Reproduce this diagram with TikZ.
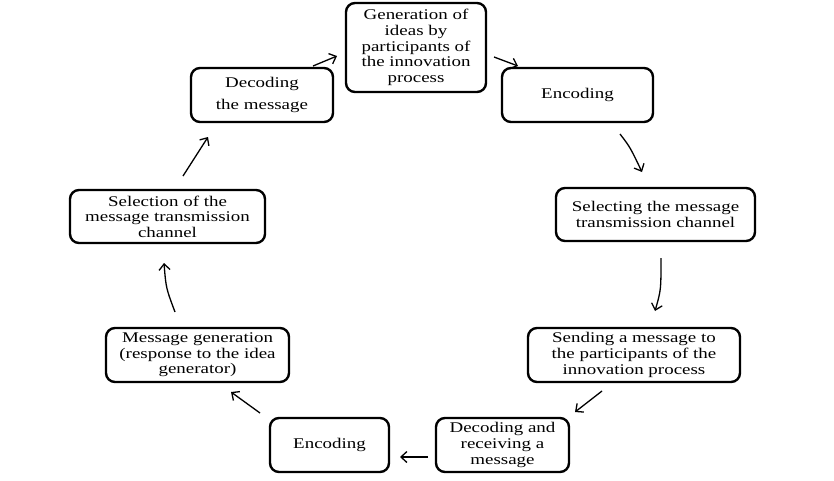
\documentclass[tikz,border=0pt]{standalone}
\usepackage{fontspec}
\setmainfont[FakeStretch=1.28]{Liberation Serif}
\usetikzlibrary{arrows.meta}
\begin{document}
\begin{tikzpicture}[x=1pt,y=-1pt,
  box/.style={draw=black,line width=2.4pt,rounded corners=9pt,align=center,inner sep=0pt,
    font=\fontsize{14.8}{15.6}\selectfont},
  arr/.style={line width=1.3pt,-{Straight Barb[length=6pt,width=11pt,line width=1.3pt]}}]
\useasboundingbox[fill=white] (0,0) rectangle (834,480);
\node[box,minimum width=140pt,minimum height=89pt] (n1) at (416,47.5) {Generation of\\ideas by\\participants of\\the innovation\\process};
\node[box,minimum width=151pt,minimum height=54pt] (n2) at (577.5,95) {Encoding};
\node[box,minimum width=199pt,minimum height=53pt] (n3) at (655.5,214.5) {Selecting the message\\transmission channel};
\node[box,minimum width=212pt,minimum height=54pt] (n4) at (634,355) {Sending a message to\\the participants of the\\innovation process};
\node[box,minimum width=133pt,minimum height=54pt] (n5) at (502.5,445) {Decoding and\\receiving a\\message};
\node[box,minimum width=119pt,minimum height=54pt] (n6) at (329.5,445) {Encoding};
\node[box,minimum width=183pt,minimum height=54pt] (n7) at (197.5,355) {Message generation\\(response to the idea\\generator)};
\node[box,minimum width=195pt,minimum height=53pt] (n8) at (167.5,216.5) {Selection of the\\message transmission\\channel};
\node[box,minimum width=142pt,minimum height=54pt] (n9) at (262,95) {Decoding\\[6pt]the message};
% arrow endpoints
\coordinate (a1s) at (313,66);  \coordinate (a1e) at (337,56);
\coordinate (a2s) at (494,57);  \coordinate (a2e) at (518,66);
\coordinate (a3s) at (620,134); \coordinate (a3e) at (642,172);
\coordinate (a4s) at (661,258); \coordinate (a4e) at (655,311);
\coordinate (a5s) at (602,391); \coordinate (a5e) at (575,412);
\coordinate (a6s) at (428,457); \coordinate (a6e) at (400,457);
\coordinate (a7s) at (260,413); \coordinate (a7e) at (231,392);
\coordinate (a8s) at (175,312); \coordinate (a8e) at (164,263);
\coordinate (a9s) at (183,176); \coordinate (a9e) at (208,137);
\draw[arr] (a1s) -- (a1e);
\draw[arr] (a2s) -- (a2e);
\draw[arr] (a3s) .. controls (630,147) .. (a3e);
\draw[arr] (a4s) .. controls (661,290) .. (a4e);
\draw[arr] (a5s) -- (a5e);
\draw[arr] (a6s) -- (a6e);
\draw[arr] (a7s) -- (a7e);
\draw[arr] (a8s) .. controls (166,288) .. (a8e);
\draw[arr] (a9s) -- (a9e);
\end{tikzpicture}
\end{document}
